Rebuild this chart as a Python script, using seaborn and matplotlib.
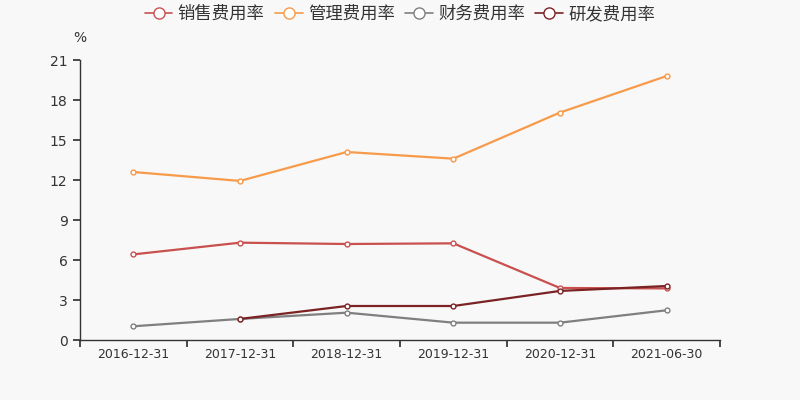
import numpy as np
import pandas as pd
import matplotlib
matplotlib.use("Agg")
import matplotlib.pyplot as plt
from matplotlib.lines import Line2D
import seaborn as sns

dates = ["2016-12-31", "2017-12-31", "2018-12-31", "2019-12-31", "2020-12-31", "2021-06-30"]
sales = [6.42, 7.30, 7.20, 7.25, 3.90, 3.87]
mgmt = [12.60, 11.93, 14.10, 13.60, 17.06, 19.80]
finance = [1.03, 1.58, 2.05, 1.30, 1.30, 2.23]
rnd = [np.nan, 1.58, 2.55, 2.55, 3.68, 4.05]
names = ["销售费用率", "管理费用率", "财务费用率", "研发费用率"]
colors = ["#c9504f", "#f79a4a", "#7f7f7f", "#7b2324"]
yticks = [0, 3, 6, 9, 12, 15, 18, 21]

sns.set_theme(style="ticks")
plt.rcParams["font.family"] = ["DejaVu Sans", "Noto Sans CJK SC"]

fig = plt.figure(figsize=(8, 4), dpi=100, facecolor="#f8f8f8")
ax = fig.add_axes([0.1, 0.15, 0.8, 0.70])
ax.set_facecolor("#f8f8f8")

series = [sales, mgmt, finance, rnd]
for name, vals, c in zip(names, series, colors):
    df = pd.DataFrame({"date": dates, "value": vals})
    sns.lineplot(data=df, x="date", y="value", ax=ax, color=c, lw=1.6,
                 marker="o", markersize=3.5, markerfacecolor="white",
                 markeredgecolor=c, markeredgewidth=1.0)

ax.set_xlim(-0.5, len(dates) - 0.5)
ax.set_ylim(0, 21)
ax.set_yticks(yticks)
ax.set_yticklabels([str(v) for v in yticks], fontsize=10, color="#333333")
ax.set_xticks(np.arange(-0.5, len(dates), 1.0))
ax.set_xticklabels([])
ax.set_xticks(np.arange(len(dates)), minor=True)
ax.set_xticklabels(dates, minor=True, fontsize=9, color="#333333")
ax.tick_params(axis="x", which="minor", length=0, pad=6)
ax.tick_params(axis="x", which="major", length=5, color="#333333")
ax.tick_params(axis="y", length=5, color="#333333", pad=4)
ax.set_xlabel("")
ax.set_ylabel("")
for s in ["top", "right"]:
    ax.spines[s].set_visible(False)
for s in ["left", "bottom"]:
    ax.spines[s].set_color("#333333")
    ax.spines[s].set_linewidth(1.0)

fig.text(0.092, 0.905, "%", fontsize=10, color="#333333", ha="left", va="center")

handles = [Line2D([0], [0], color=c, lw=1.2, marker="o", markersize=8,
                  markerfacecolor="white", markeredgecolor=c, markeredgewidth=1.0)
           for c in colors]
fig.legend(handles, names, loc="center", bbox_to_anchor=(0.5, 0.965), ncol=4,
           frameon=False, fontsize=12.5, handlelength=1.6, handletextpad=0.3,
           columnspacing=0.6, labelcolor="#333333")

fig.savefig("out.png", dpi=100, facecolor="#f8f8f8")
